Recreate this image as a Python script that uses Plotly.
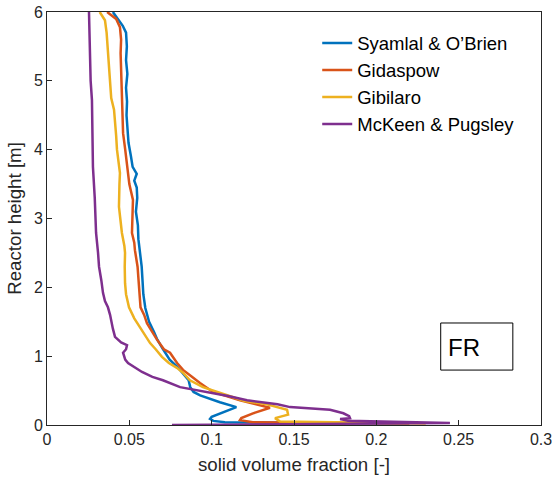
import plotly.graph_objects as go

# ---- data ----
series_names = ["Syamlal & O\u2019Brien", "Gidaspow", "Gibilaro", "McKeen & Pugsley"]
series_colors = ["#0072BD", "#D95319", "#EDB120", "#7E2F8E"]

blue_y = [6.0, 5.9, 5.8, 5.7, 5.5, 5.3, 5.1, 4.9, 4.7, 4.5, 4.3, 4.1, 3.9, 3.75, 3.65, 3.55, 3.45,
          3.3, 3.1, 2.9, 2.7, 2.5, 2.3, 2.1, 1.9, 1.7, 1.5, 1.35, 1.24, 1.1, 0.95, 0.85, 0.75,
          0.65, 0.55, 0.48, 0.43, 0.38, 0.33, 0.26, 0.2, 0.16, 0.12, 0.09, 0.06, 0.04, 0.02]
blue_x = [0.040, 0.043, 0.046, 0.048, 0.0485, 0.048, 0.0488, 0.048, 0.0486, 0.0483, 0.049, 0.0495,
          0.051, 0.052, 0.0545, 0.053, 0.0545, 0.0548, 0.054, 0.0552, 0.0555, 0.0565, 0.0575,
          0.058, 0.0585, 0.0597, 0.062, 0.065, 0.067, 0.0705, 0.0745, 0.079, 0.0826, 0.086,
          0.087, 0.089, 0.093, 0.099, 0.105, 0.115, 0.109, 0.105, 0.100, 0.099, 0.101, 0.108, 0.22]

orange_y = [6.0, 5.9, 5.78, 5.6, 5.4, 5.2, 5.0, 4.8, 4.6, 4.4, 4.24, 4.0, 3.75, 3.5, 3.27, 3.0,
            2.79, 2.65, 2.54, 2.3, 2.06, 1.9, 1.71, 1.6, 1.48, 1.35, 1.24, 1.1, 1.05, 0.9, 0.8,
            0.7, 0.61, 0.48, 0.36, 0.3, 0.25, 0.17, 0.1, 0.07, 0.04, 0.02]
orange_x = [0.0365, 0.042, 0.0443, 0.045, 0.0447, 0.0449, 0.045, 0.0452, 0.0458, 0.046, 0.0462,
            0.0475, 0.0486, 0.050, 0.0522, 0.052, 0.0516, 0.053, 0.0534, 0.055, 0.0559, 0.0565,
            0.0568, 0.059, 0.0607, 0.064, 0.0668, 0.071, 0.0747, 0.079, 0.0826, 0.088, 0.0929,
            0.1008, 0.1172, 0.127, 0.1354, 0.1251, 0.118, 0.1172, 0.125, 0.22]

yellow_y = [6.0, 5.88, 5.7, 5.45, 5.2, 4.97, 4.75, 4.58, 4.4, 4.2, 4.0, 3.8, 3.66, 3.5, 3.3, 3.17,
            3.0, 2.79, 2.6, 2.5, 2.3, 2.06, 1.9, 1.71, 1.55, 1.42, 1.3, 1.19, 1.1, 0.99, 0.9,
            0.83, 0.75, 0.65, 0.55, 0.44, 0.35, 0.3, 0.22, 0.15, 0.1, 0.05, 0.02]
yellow_x = [0.032, 0.0352, 0.0362, 0.037, 0.0375, 0.0383, 0.039, 0.0407, 0.0415, 0.042, 0.0425,
            0.0435, 0.0443, 0.044, 0.0437, 0.0437, 0.0445, 0.0455, 0.047, 0.0474, 0.0472, 0.0474,
            0.048, 0.0498, 0.053, 0.0565, 0.060, 0.0626, 0.066, 0.0698, 0.074, 0.0789, 0.083,
            0.0868, 0.0947, 0.1093, 0.12, 0.1336, 0.1458, 0.1464, 0.1385, 0.1415, 0.23]

purple_y = [6.0, 5.5, 5.0, 4.72, 4.3, 3.75, 3.3, 2.79, 2.5, 2.3, 2.1, 1.92, 1.8, 1.71, 1.6, 1.5,
            1.4, 1.28, 1.2, 1.16, 1.1, 1.05, 0.95, 0.9, 0.82, 0.77, 0.7, 0.65, 0.55, 0.48, 0.42,
            0.36, 0.3, 0.26, 0.22, 0.17, 0.13, 0.1, 0.087, 0.06, 0.03, 0.0]
purple_x = [0.0255, 0.026, 0.0265, 0.0273, 0.0276, 0.0279, 0.029, 0.0298, 0.031, 0.0316, 0.033,
            0.034, 0.0352, 0.037, 0.0383, 0.039, 0.040, 0.0413, 0.045, 0.0486, 0.048, 0.0462,
            0.0475, 0.0492, 0.054, 0.0577, 0.064, 0.0704, 0.0808, 0.0972, 0.11, 0.1215, 0.14,
            0.1476, 0.1719, 0.18, 0.1835, 0.184, 0.178, 0.1828, 0.2447, 0.0759]

x_ticks = [0, 0.05, 0.1, 0.15, 0.2, 0.25, 0.3]
x_tick_text = ["0", "0.05", "0.1", "0.15", "0.2", "0.25", "0.3"]
y_ticks = [0, 1, 2, 3, 4, 5, 6]

xs = [blue_x, orange_x, yellow_x, purple_x]
ys = [blue_y, orange_y, yellow_y, purple_y]

fig = go.Figure()
for name, color, x, y in zip(series_names, series_colors, xs, ys):
    fig.add_trace(go.Scatter(x=x, y=y, mode="lines", name=name,
                             line=dict(color=color, width=2.5)))

axis_color = "#262626"
font_family = "Liberation Sans, Arial, Helvetica, sans-serif"

fig.update_layout(
    width=552, height=484,
    margin=dict(l=47, r=11, t=12, b=59, autoexpand=False),
    plot_bgcolor="white", paper_bgcolor="white",
    font=dict(family=font_family, color=axis_color, size=16),
    showlegend=True,
    legend=dict(x=0.547, y=0.97, xanchor="left", yanchor="top",
                bgcolor="rgba(255,255,255,0)", borderwidth=0,
                font=dict(size=18.5, color="#000000"), tracegroupgap=0),
    xaxis=dict(range=[0, 0.3], tickvals=x_ticks, ticktext=x_tick_text,
               ticks="inside", ticklen=5, tickcolor=axis_color, tickwidth=1,
               showline=True, linecolor=axis_color, linewidth=1, mirror=True,
               showgrid=False, zeroline=False, automargin=False,
               ticklabeloverflow="allow",
               tickfont=dict(size=16, color=axis_color),
               title=dict(text="solid volume fraction [-]", font=dict(size=18.7, color=axis_color),
                          standoff=10)),
    yaxis=dict(range=[0, 6], tickvals=y_ticks,
               ticks="inside", ticklen=5, tickcolor=axis_color, tickwidth=1,
               showline=True, linecolor=axis_color, linewidth=1, mirror=True,
               showgrid=False, zeroline=False, automargin=False,
               ticklabeloverflow="allow",
               tickfont=dict(size=16, color=axis_color),
               title=dict(text="Reactor height [m]", font=dict(size=18.7, color=axis_color),
                          standoff=7)),
)

# "FR" label box
fig.add_shape(type="rect", xref="paper", yref="paper",
              x0=0.797, x1=0.943, y0=0.133, y1=0.247,
              line=dict(color="#000000", width=1), fillcolor="white")
fig.add_annotation(text="FR", xref="paper", yref="paper", x=0.844, y=0.187,
                   xanchor="center", yanchor="middle",
                   showarrow=False, font=dict(size=24, color="#000000"))

# remove the default page margin so the 552x484 figure fills the window exactly
fig.write_html("out.html", config={"displayModeBar": False},
               post_script="document.body.style.margin='0';")
